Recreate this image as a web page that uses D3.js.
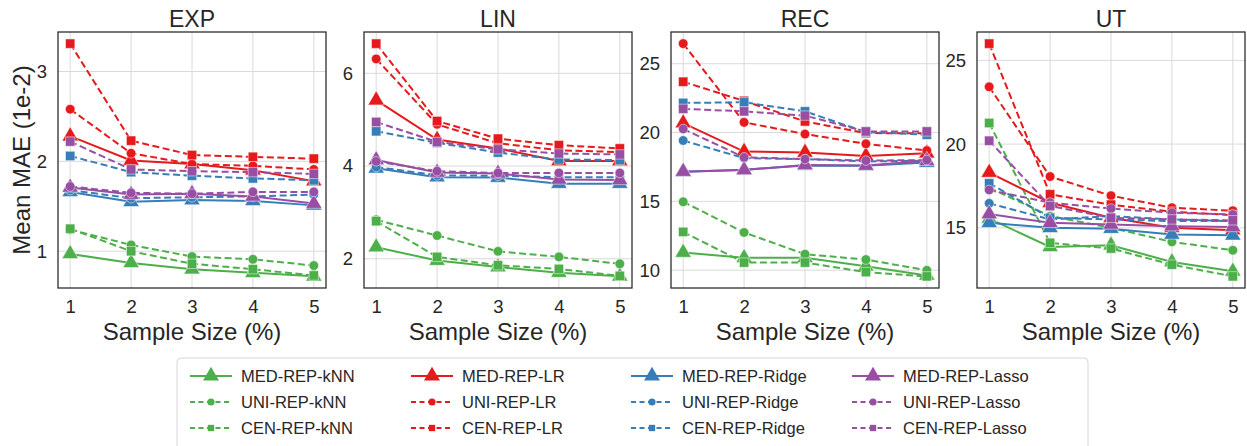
<!DOCTYPE html>
<html>
<head>
<meta charset="utf-8">
<script src="https://cdn.jsdelivr.net/npm/d3@7.9.0/dist/d3.min.js"></script>
<style>
  body { margin: 0; background: #fff; }
  svg { display: block; font-family: "Liberation Sans", Arial, sans-serif; }
  .grid line { stroke: #dadada; stroke-width: 1; }
  .tick text { fill: #262626; }
</style>
</head>
<body>
<svg id="chart" width="1247" height="446"></svg>
<script>
// x values (sample size %)
const sampleSizes = [1, 2, 3, 4, 5];
const datasets = ["EXP", "LIN", "REC", "UT"];
const methods = ["MED-REP", "UNI-REP", "CEN-REP"];
const models = ["kNN", "LR", "Ridge", "Lasso"];

// series order: model-major, matches legend columns
const seriesNames = [
  "MED-REP-kNN", "UNI-REP-kNN", "CEN-REP-kNN",
  "MED-REP-LR", "UNI-REP-LR", "CEN-REP-LR",
  "MED-REP-Ridge", "UNI-REP-Ridge", "CEN-REP-Ridge",
  "MED-REP-Lasso", "UNI-REP-Lasso", "CEN-REP-Lasso"
];

const expValues = [
  [0.97, 0.87, 0.80, 0.76, 0.72],
  [1.24, 1.07, 0.94, 0.91, 0.84],
  [1.25, 1.00, 0.86, 0.80, 0.73],
  [2.28, 2.01, 1.97, 1.90, 1.78],
  [2.58, 2.09, 1.97, 1.95, 1.91],
  [3.31, 2.23, 2.07, 2.05, 2.03],
  [1.66, 1.55, 1.57, 1.56, 1.51],
  [1.68, 1.59, 1.60, 1.61, 1.63],
  [2.06, 1.88, 1.84, 1.81, 1.79],
  [1.71, 1.63, 1.64, 1.61, 1.53],
  [1.72, 1.65, 1.64, 1.66, 1.66],
  [2.22, 1.91, 1.89, 1.88, 1.86]
];

const linValues = [
  [2.25, 1.96, 1.82, 1.70, 1.62],
  [2.84, 2.50, 2.16, 2.04, 1.89],
  [2.81, 2.04, 1.86, 1.78, 1.63],
  [5.42, 4.57, 4.38, 4.11, 4.11],
  [6.31, 4.90, 4.49, 4.34, 4.30],
  [6.64, 4.97, 4.59, 4.45, 4.38],
  [3.95, 3.76, 3.75, 3.62, 3.62],
  [3.98, 3.80, 3.79, 3.76, 3.76],
  [4.75, 4.50, 4.29, 4.14, 4.13],
  [4.13, 3.86, 3.84, 3.71, 3.70],
  [4.10, 3.89, 3.85, 3.85, 3.85],
  [4.95, 4.52, 4.36, 4.27, 4.25]
];

const recValues = [
  [11.28, 10.90, 10.90, 10.28, 9.62],
  [14.97, 12.74, 11.16, 10.77, 9.99],
  [12.78, 10.55, 10.55, 9.86, 9.55],
  [20.69, 18.62, 18.55, 18.30, 18.50],
  [26.46, 20.74, 19.89, 19.18, 18.69],
  [23.69, 22.30, 20.81, 19.96, 19.95],
  [17.15, 17.30, 17.60, 17.58, 17.82],
  [19.42, 18.14, 18.07, 17.90, 17.95],
  [22.15, 22.20, 21.54, 20.04, 19.84],
  [17.16, 17.28, 17.65, 17.60, 17.95],
  [20.26, 18.20, 18.07, 17.96, 18.00],
  [21.72, 21.54, 21.23, 20.08, 20.08]
];

const utValues = [
  [15.55, 13.86, 13.96, 12.96, 12.40],
  [17.40, 15.70, 15.00, 14.16, 13.66],
  [21.26, 14.10, 13.76, 12.80, 12.10],
  [18.30, 16.50, 15.60, 15.00, 14.86],
  [23.42, 18.06, 16.92, 16.20, 16.02],
  [26.00, 17.00, 16.38, 15.96, 15.76],
  [15.30, 15.00, 14.95, 14.60, 14.55],
  [16.46, 15.50, 15.70, 15.50, 15.40],
  [17.66, 15.60, 15.50, 15.40, 15.40],
  [15.82, 15.30, 15.20, 15.10, 15.05],
  [17.26, 16.50, 16.15, 15.90, 15.80],
  [20.20, 16.30, 15.60, 15.50, 15.45]
];

// y tick labels per panel
const expTicks = [1, 2, 3];
const linTicks = [2, 4, 6];
const recTicks = [10, 15, 20, 25];
const utTicks = [15, 20, 25];

const panelValues = [expValues, linValues, recValues, utValues];
const panelTicks = [expTicks, linTicks, recTicks, utTicks];

const modelColors = { kNN: "#4daf4a", LR: "#e41a1c", Ridge: "#377eb8", Lasso: "#984ea3" };
const methodDash = { "MED-REP": null, "UNI-REP": "7,3.5", "CEN-REP": "7,3.5" };
const methodSymbol = { "MED-REP": d3.symbolTriangle, "UNI-REP": d3.symbolCircle, "CEN-REP": d3.symbolSquare };
const methodSize = { "MED-REP": 115, "UNI-REP": 72, "CEN-REP": 88 };

function seriesInfo(name) {
  const method = methods.find(m => name.startsWith(m));
  const model = name.slice(method.length + 1);
  return { method, model, color: modelColors[model] };
}

const svg = d3.select("#chart");
const panelLeft = [58, 364, 671, 977];
const panelWidth = 268;
const plotTop = 32, plotBottom = 288;

datasets.forEach((name, p) => {
  const values = panelValues[p];
  const all = values.flat();
  const lo = d3.min(all), hi = d3.max(all);
  const pad = (hi - lo) * 0.05;

  const x = d3.scaleLinear().domain([0.8, 5.2]).range([panelLeft[p], panelLeft[p] + panelWidth]);
  const y = d3.scaleLinear().domain([lo - pad, hi + pad]).range([plotBottom, plotTop]);

  const g = svg.append("g");

  // grid
  g.append("g").attr("class", "grid")
    .selectAll("line").data(sampleSizes).enter().append("line")
    .attr("x1", d => x(d)).attr("x2", d => x(d)).attr("y1", plotTop).attr("y2", plotBottom);
  g.append("g").attr("class", "grid")
    .selectAll("line").data(panelTicks[p]).enter().append("line")
    .attr("x1", panelLeft[p]).attr("x2", panelLeft[p] + panelWidth)
    .attr("y1", d => y(d)).attr("y2", d => y(d));

  // axes (labels only)
  const xAxis = g.append("g").attr("transform", `translate(0,${plotBottom})`)
    .call(d3.axisBottom(x).tickValues(sampleSizes).tickFormat(d3.format("d")).tickSize(0).tickPadding(12));
  xAxis.select(".domain").remove();
  xAxis.selectAll("text").style("font-size", "18.5px");

  const yAxis = g.append("g").attr("transform", `translate(${panelLeft[p]},0)`)
    .call(d3.axisLeft(y).tickValues(panelTicks[p]).tickFormat(d3.format("d")).tickSize(0).tickPadding(11));
  yAxis.select(".domain").remove();
  yAxis.selectAll("text").style("font-size", "18.5px");

  // series
  const line = d3.line().x((d, i) => x(sampleSizes[i])).y(d => y(d));
  seriesNames.forEach((s, k) => {
    const info = seriesInfo(s);
    g.append("path")
      .attr("d", line(values[k]))
      .attr("fill", "none")
      .attr("stroke", info.color)
      .attr("stroke-width", 2)
      .attr("stroke-dasharray", methodDash[info.method]);
    g.selectAll(null).data(values[k]).enter().append("path")
      .attr("transform", (d, i) => `translate(${x(sampleSizes[i])},${y(d)})`)
      .attr("d", d3.symbol().type(methodSymbol[info.method]).size(methodSize[info.method]))
      .attr("fill", info.color)
      .attr("stroke", "#fff")
      .attr("stroke-width", 0.5);
  });

  // frame
  g.append("rect")
    .attr("x", panelLeft[p]).attr("y", plotTop)
    .attr("width", panelWidth).attr("height", plotBottom - plotTop)
    .attr("fill", "none").attr("stroke", "#262626").attr("stroke-width", 1.25);

  // title and x label
  g.append("text")
    .attr("x", panelLeft[p] + panelWidth / 2).attr("y", 26.5)
    .attr("text-anchor", "middle").attr("fill", "#262626")
    .style("font-size", "23px").text(name);
  g.append("text")
    .attr("x", panelLeft[p] + panelWidth / 2).attr("y", 340)
    .attr("text-anchor", "middle").attr("fill", "#262626")
    .style("font-size", "24px").text("Sample Size (%)");
});

// y label
svg.append("text")
  .attr("transform", "translate(30,160) rotate(-90)")
  .attr("text-anchor", "middle").attr("fill", "#262626")
  .style("font-size", "24px").text("Mean MAE (1e-2)");

// legend
const legend = svg.append("g");
legend.append("rect")
  .attr("x", 177).attr("y", 358).attr("width", 911).attr("height", 96)
  .attr("rx", 4).attr("fill", "#fff").attr("stroke", "#d6d6d6");

const colX = [190, 411, 631, 852];
const rowY = [376, 402, 428];
seriesNames.forEach((s, k) => {
  const info = seriesInfo(s);
  const col = models.indexOf(info.model);
  const row = methods.indexOf(info.method);
  const lx = colX[col], ly = rowY[row];
  legend.append("line")
    .attr("x1", lx).attr("x2", lx + 42).attr("y1", ly).attr("y2", ly)
    .attr("stroke", info.color).attr("stroke-width", 2)
    .attr("stroke-dasharray", info.method === "MED-REP" ? null : "5,3.5");
  legend.append("path")
    .attr("transform", `translate(${lx + 21},${ly})`)
    .attr("d", d3.symbol().type(methodSymbol[info.method]).size(info.method === "MED-REP" ? 110 : 40))
    .attr("fill", info.color);
  legend.append("text")
    .attr("x", lx + 51).attr("y", ly).attr("dy", "0.35em")
    .attr("fill", "#262626").style("font-size", "16.5px").text(s);
});
</script>
</body>
</html>
